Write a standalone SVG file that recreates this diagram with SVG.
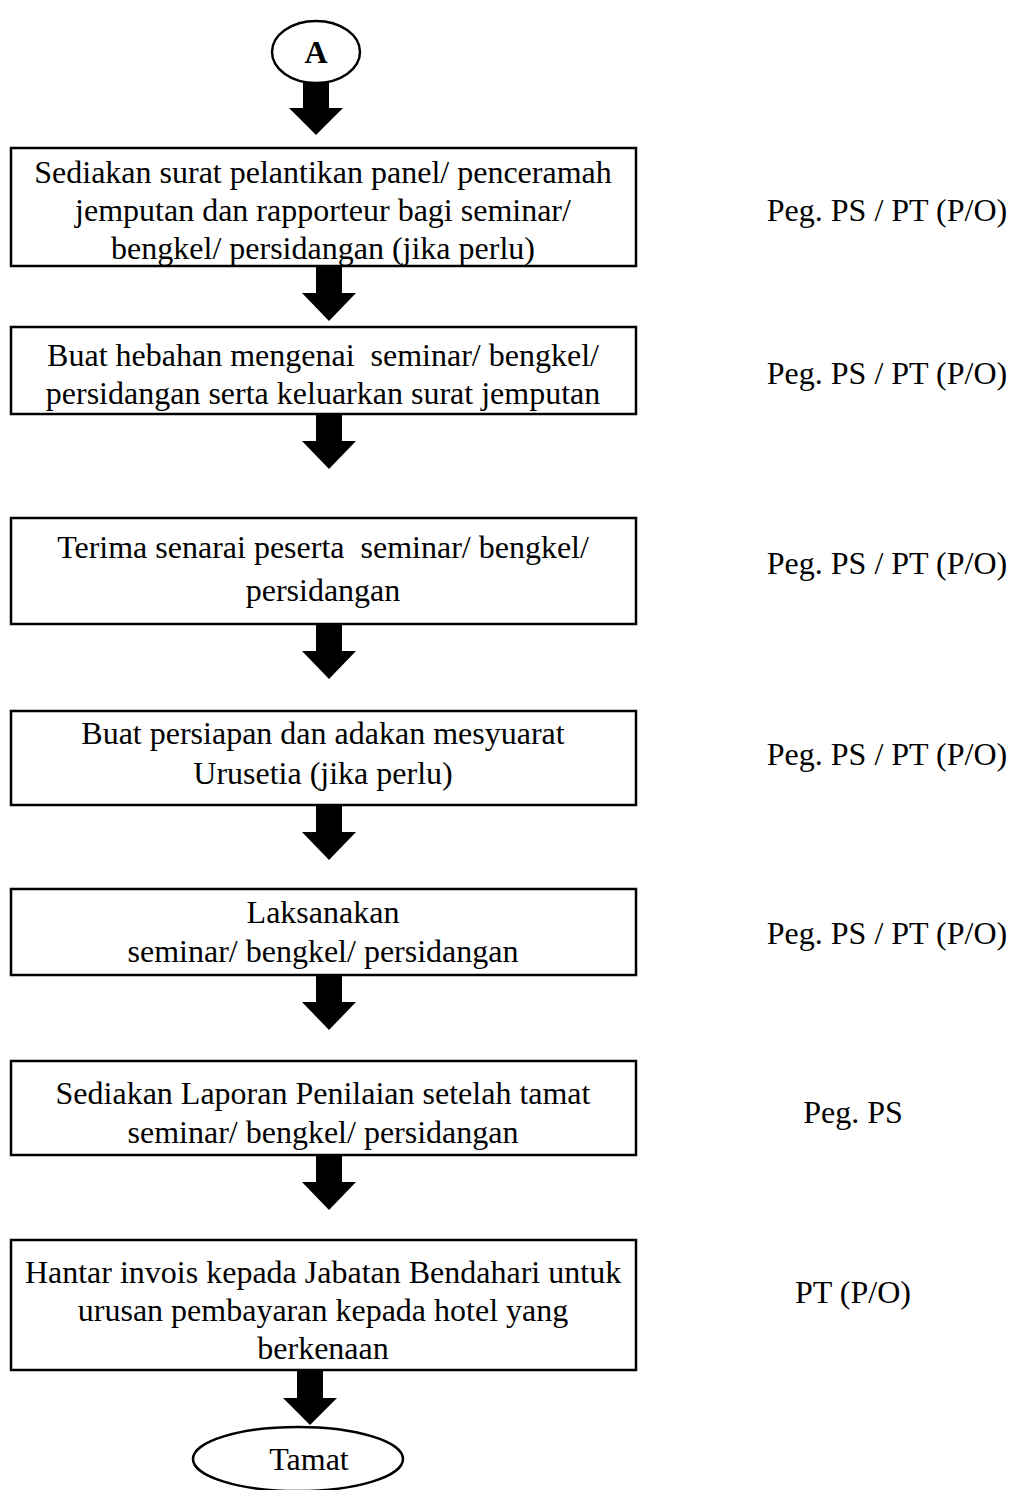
<svg xmlns="http://www.w3.org/2000/svg" width="1014" height="1490" viewBox="0 0 1014 1490">
<style>
.box{fill:#fff;stroke:#000;stroke-width:2.5}
.t{font-family:"Liberation Serif","Times New Roman",serif;font-size:32px;fill:#000;text-anchor:middle}
.arr{fill:#000}
</style>
<rect width="1014" height="1490" fill="#fff"/>
<g id="start">
<ellipse class="box" cx="316" cy="52" rx="44" ry="31"/>
<text class="t" x="316" y="63" font-weight="bold">A</text>
</g>
<g id="n1">
<rect class="box" x="11" y="148" width="625" height="118"/>
<text class="t" x="323" y="183">Sediakan surat pelantikan panel/ penceramah</text>
<text class="t" x="323" y="221">jemputan dan rapporteur bagi seminar/</text>
<text class="t" x="323" y="259">bengkel/ persidangan (jika perlu)</text>
<text class="t" x="887" y="221">Peg. PS / PT (P/O)</text>
</g>
<g id="n2">
<rect class="box" x="11" y="327" width="625" height="87"/>
<text class="t" x="323" y="366" xml:space="preserve">Buat hebahan mengenai  seminar/ bengkel/</text>
<text class="t" x="323" y="404">persidangan serta keluarkan surat jemputan</text>
<text class="t" x="887" y="384">Peg. PS / PT (P/O)</text>
</g>
<g id="n3">
<rect class="box" x="11" y="518" width="625" height="106"/>
<text class="t" x="323" y="558" xml:space="preserve">Terima senarai peserta  seminar/ bengkel/</text>
<text class="t" x="323" y="601">persidangan</text>
<text class="t" x="887" y="574">Peg. PS / PT (P/O)</text>
</g>
<g id="n4">
<rect class="box" x="11" y="711" width="625" height="94"/>
<text class="t" x="323" y="744">Buat persiapan dan adakan mesyuarat</text>
<text class="t" x="323" y="784">Urusetia (jika perlu)</text>
<text class="t" x="887" y="765">Peg. PS / PT (P/O)</text>
</g>
<g id="n5">
<rect class="box" x="11" y="889" width="625" height="86"/>
<text class="t" x="323" y="923">Laksanakan</text>
<text class="t" x="323" y="962">seminar/ bengkel/ persidangan</text>
<text class="t" x="887" y="944">Peg. PS / PT (P/O)</text>
</g>
<g id="n6">
<rect class="box" x="11" y="1061" width="625" height="94"/>
<text class="t" x="323" y="1104">Sediakan Laporan Penilaian setelah tamat</text>
<text class="t" x="323" y="1143">seminar/ bengkel/ persidangan</text>
<text class="t" x="853" y="1123">Peg. PS</text>
</g>
<g id="n7">
<rect class="box" x="11" y="1240" width="625" height="130"/>
<text class="t" x="323" y="1283">Hantar invois kepada Jabatan Bendahari untuk</text>
<text class="t" x="323" y="1321">urusan pembayaran kepada hotel yang</text>
<text class="t" x="323" y="1359">berkenaan</text>
<text class="t" x="853" y="1303">PT (P/O)</text>
</g>
<g id="end">
<ellipse class="box" cx="298" cy="1459" rx="105" ry="32"/>
<text class="t" x="309" y="1470">Tamat</text>
</g>
<g id="connectors">
<polygon class="arr" points="303,83 329,83 329,108 343,108 316,135 289,108 303,108"/>
<polygon class="arr" points="316,267 342,267 342,293 356,293 329,321 302,293 316,293"/>
<polygon class="arr" points="316,415 342,415 342,441 356,441 329,469 302,441 316,441"/>
<polygon class="arr" points="316,625 342,625 342,651 356,651 329,679 302,651 316,651"/>
<polygon class="arr" points="316,806 342,806 342,832 356,832 329,860 302,832 316,832"/>
<polygon class="arr" points="316,976 342,976 342,1002 356,1002 329,1030 302,1002 316,1002"/>
<polygon class="arr" points="316,1156 342,1156 342,1182 356,1182 329,1210 302,1182 316,1182"/>
<polygon class="arr" points="297,1371 323,1371 323,1398 337,1398 310,1425 283,1398 297,1398"/>
</g>
</svg>
